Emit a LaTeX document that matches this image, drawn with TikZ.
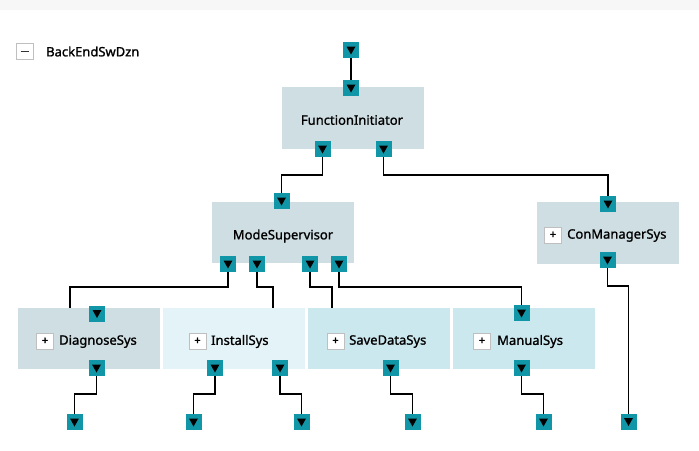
\documentclass[tikz,border=0pt]{standalone}
\usepackage{fontspec}
\setmainfont{Noto Sans}[FakeBold=1.2]
\newfontfamily\plusfont{Noto Sans}[FakeBold=2.5]
\definecolor{boxA}{HTML}{CFDEE3}
\definecolor{boxB}{HTML}{E4F3F7}
\definecolor{boxC}{HTML}{CCE8EF}
\definecolor{portc}{HTML}{1196A8}
\definecolor{band}{HTML}{F7F7F7}
\tikzset{
  blk/.style={rectangle, minimum width=142pt, minimum height=61pt, inner sep=0pt, outer sep=0pt},
  port/.style={rectangle, fill=portc, minimum size=16pt, inner sep=0pt, outer sep=0pt,
    path picture={\fill[black] ([xshift=-4.5pt,yshift=3.5pt]path picture bounding box.center) -- ++(9pt,0pt) -- ++(-4.5pt,-8pt) -- cycle;}},
  conn/.style={line width=1.8pt, black},
  pbox/.style={rectangle, draw=black!25, line width=0.8pt, fill=white, minimum width=17pt, minimum height=16pt, inner sep=0pt,
    font=\plusfont\fontsize{11}{12}\selectfont},
  lbl/.style={font=\fontsize{13}{15}\selectfont, inner sep=0pt},
}
\begin{document}
\begin{tikzpicture}[x=1pt,y=-1pt]
\useasboundingbox (0,0) rectangle (699,450);
\fill[white] (0,0) rectangle (699,450);
\fill[band] (0,0) rectangle (699,10);

% title
\node[pbox] (minus) at (24.5,51) {};
\draw[line width=1pt, black!80] ([xshift=-4pt]minus.center) -- ([xshift=4pt]minus.center);
\node[lbl, anchor=west] (title) at (46,51.5) {BackEndSwDzn};

% blocks
\node[blk, fill=boxA, minimum height=62pt] (fi) at (353,118) {};
\node[lbl] (fiL) at (352,120) {FunctionInitiator};
\node[blk, fill=boxA] (ms) at (283,232.5) {};
\node[lbl] (msL) at (283,236) {ModeSupervisor};
\node[blk, fill=boxA, minimum height=62pt] (cms) at (608,233) {};
\node[blk, fill=boxA] (diag) at (89,338.5) {};
\node[blk, fill=boxB] (inst) at (234,338.5) {};
\node[blk, fill=boxC] (save) at (379,338.5) {};
\node[blk, fill=boxC] (man) at (524,338.5) {};

% labels with plus boxes
\node[pbox] (cmsP) at (553,235) {+};
\node[lbl, anchor=west] (cmsL) at (567,235.5) {ConManagerSys};
\node[pbox] (diagP) at (45,341) {+};
\node[lbl, anchor=west] (diagL) at (59,341.5) {DiagnoseSys};
\node[pbox] (instP) at (197.5,341) {+};
\node[lbl, anchor=west] (instL) at (211,341.5) {InstallSys};
\node[pbox] (saveP) at (335.5,341) {+};
\node[lbl, anchor=west] (saveL) at (349,341.5) {SaveDataSys};
\node[pbox] (manP) at (482,341) {+};
\node[lbl, anchor=west] (manL) at (497,341.5) {ManualSys};

% ports
\node[port] (top0) at (351,50) {};
\node[port] (fiT) at (351,88) {};
\node[port] (fiB1) at (322.5,149) {};
\node[port] (fiB2) at (383.5,149) {};
\node[port] (msT) at (281.5,201) {};
\node[port] (msB1) at (228,264) {};
\node[port] (msB2) at (257,264) {};
\node[port] (msB3) at (310,264) {};
\node[port] (msB4) at (339,264) {};
\node[port] (cmsT) at (608,204) {};
\node[port] (cmsB) at (607.5,260) {};
\node[port] (cmsE) at (628.5,421.5) {};
\node[port] (diagT) at (97,313.5) {};
\node[port] (diagB) at (96.5,368) {};
\node[port] (diagE) at (74.5,422) {};
\node[port] (instB1) at (215,368) {};
\node[port] (instB2) at (280,368) {};
\node[port] (instE1) at (193.5,422) {};
\node[port] (instE2) at (301.5,422) {};
\node[port] (saveB) at (390.5,368) {};
\node[port] (saveE) at (412.5,422) {};
\node[port] (manT) at (521.5,313) {};
\node[port] (manB) at (521.5,368) {};
\node[port] (manE) at (543.5,422) {};

% connectors
\draw[conn] (top0.south) -- (fiT.north);
\draw[conn] (fiB1.south) -- (fiB1.south |- 0,175) -| (msT.north);
\draw[conn] (fiB2.south) -- (fiB2.south |- 0,175) -| (cmsT.north);
\draw[conn] (msB1.south) -- (msB1.south |- 0,287) -| (70,0 |- diag.north);
\draw[conn] (msB2.south) -- (msB2.south |- 0,287) -| (273,0 |- inst.north);
\draw[conn] (msB3.south) -- (msB3.south |- 0,287) -| (332,0 |- save.north);
\draw[conn] (msB4.south) -- (msB4.south |- 0,287) -| (manT.north);
\draw[conn] (cmsB.south) -- (cmsB.south |- 0,286) -| (cmsE.north);
\draw[conn] (diagB.south) -- (diagB.south |- 0,394) -| (diagE.north);
\draw[conn] (instB1.south) -- (instB1.south |- 0,394) -| (instE1.north);
\draw[conn] (instB2.south) -- (instB2.south |- 0,394) -| (instE2.north);
\draw[conn] (saveB.south) -- (saveB.south |- 0,394) -| (saveE.north);
\draw[conn] (manB.south) -- (manB.south |- 0,394) -| (manE.north);
\end{tikzpicture}
\end{document}
